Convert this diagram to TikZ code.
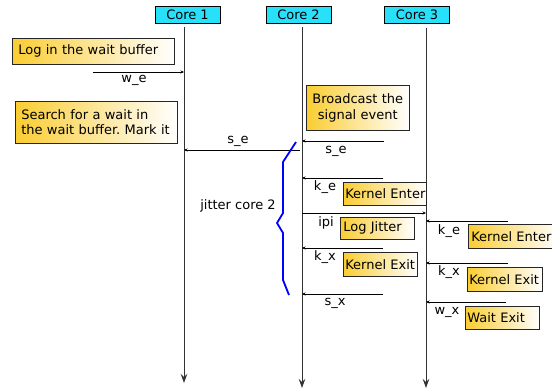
\documentclass[tikz,border=0pt]{standalone}
\usepackage{fontspec}
\setmainfont{DejaVu Sans}
\usetikzlibrary{arrows.meta}
\definecolor{corecyan}{RGB}{40,224,250}
\definecolor{notegold}{RGB}{250,205,50}
\frenchspacing

\begin{document}
\begin{tikzpicture}[x=1pt,y=-1pt,
	font=\fontsize{13}{15.5}\selectfont,
	core/.style={draw,fill=corecyan,minimum width=65pt,minimum height=17pt,inner sep=0pt},
	life/.style={draw=black!80,line width=0.9pt,-{Stealth[length=9pt,width=6.5pt,inset=3pt]}},
	msg/.style={draw,line width=0.5pt,-{Stealth[length=3.5pt,width=3pt]}},
	note/.style={draw=black!85,line width=0.6pt,left color=notegold,right color=white,
		anchor=north west,inner xsep=3pt,inner ysep=0pt,align=left},
	lbl/.style={inner sep=0pt}]
	\useasboundingbox (0,0) rectangle (552,390);

	% cores and their time lines
	\node[core] (core1) at (187.5,14.5)	{Core 1};
	\node[core] (core2) at (298.5,14.5)	{Core 2};
	\node[core] (core3) at (417,14.5)	{Core 3};

	\coordinate (c1top) at (184,27);	\coordinate (c1bot) at (184,383);
	\coordinate (c2top) at (302,27);	\coordinate (c2bot) at (302,388);
	\coordinate (c3top) at (426,28);	\coordinate (c3bot) at (426,388);
	\draw[life] (c1top) -- (c1bot);
	\draw[life] (c2top) -- (c2bot);
	\draw[life] (c3top) -- (c3bot);

	% notes
	\node[note,text width=150pt,inner xsep=6pt,minimum height=26pt] (logwait) at (12,38)	{Log in the wait buffer};
	\node[note,text width=150pt,inner xsep=6pt,minimum height=42pt] (search) at (15,101)	{Search for a wait in\\the wait buffer. Mark it};
	\node[note,text width=97pt,align=center,minimum height=45pt] (bcast) at (306,85)	{Broadcast the\\signal event};
	\node[note,text width=79pt,inner xsep=2pt,minimum height=23pt] (kenter2) at (343,182)	{\mbox{Kernel Enter}};
	\node[note,text width=68pt,minimum height=22pt] (logjit) at (340,217)	{Log Jitter};
	\node[note,text width=70pt,inner xsep=2pt,minimum height=24pt] (kexit2) at (343,252)	{Kernel Exit};
	\node[note,text width=84pt,minimum height=24pt] (kenter3) at (468,224)	{Kernel Enter};
	\node[note,text width=71pt,inner xsep=2pt,minimum height=24pt] (kexit3) at (467,267)	{Kernel Exit};
	\node[note,text width=70pt,inner xsep=2pt,minimum height=23pt] (wexit3) at (465,306)	{Wait Exit};

	% messages
	\coordinate (we) at (93,72);
	\coordinate (se1) at (300,150);
	\coordinate (se2) at (384,141);
	\coordinate (ke2) at (383,178);
	\coordinate (ipi) at (302,213);
	\coordinate (kx2) at (383,248);
	\coordinate (sx) at (383,294);
	\coordinate (ke3) at (508,221);
	\coordinate (kx3) at (508,263);
	\coordinate (wx3) at (506,302);

	\draw[msg] (we) -- (we -| c1top);
	\draw[msg] (se1) -- (se1 -| c1top);
	\draw[msg] (se2) -- (se2 -| c2top);
	\draw[msg] (ke2) -- (ke2 -| c2top);
	\draw[msg] (ipi) -- (ipi -| c3top);
	\draw[msg] (kx2) -- (kx2 -| c2top);
	\draw[msg] (sx) -- (sx -| c2top);
	\draw[msg] (ke3) -- (ke3 -| c3top);
	\draw[msg] (kx3) -- (kx3 -| c3top);
	\draw[msg] (wx3) -- (wx3 -| c3top);

	\node[lbl] (lwe) at (134,80)	{w\_e};
	\node[lbl] (lse1) at (238,141)	{s\_e};
	\node[lbl] (lse2) at (336,151)	{s\_e};
	\node[lbl] (lke2) at (325,187)	{k\_e};
	\node[lbl] (lipi) at (326,223)	{ipi};
	\node[lbl] (lkx2) at (325,257)	{k\_x};
	\node[lbl] (lsx) at (335,303)	{s\_x};
	\node[lbl] (lke3) at (449,231)	{k\_e};
	\node[lbl] (lkx3) at (449,272)	{k\_x};
	\node[lbl] (lwx3) at (447,312)	{w\_x};

	% jitter brace
	\draw[blue,line width=1.8pt] (296,142) -- (283,162) -- (283,213) -- (277,223) -- (283,233) -- (283,280) -- (289,295);
	\node[lbl] (jitter) at (238,206)	{jitter core 2};
\end{tikzpicture}
\end{document}
